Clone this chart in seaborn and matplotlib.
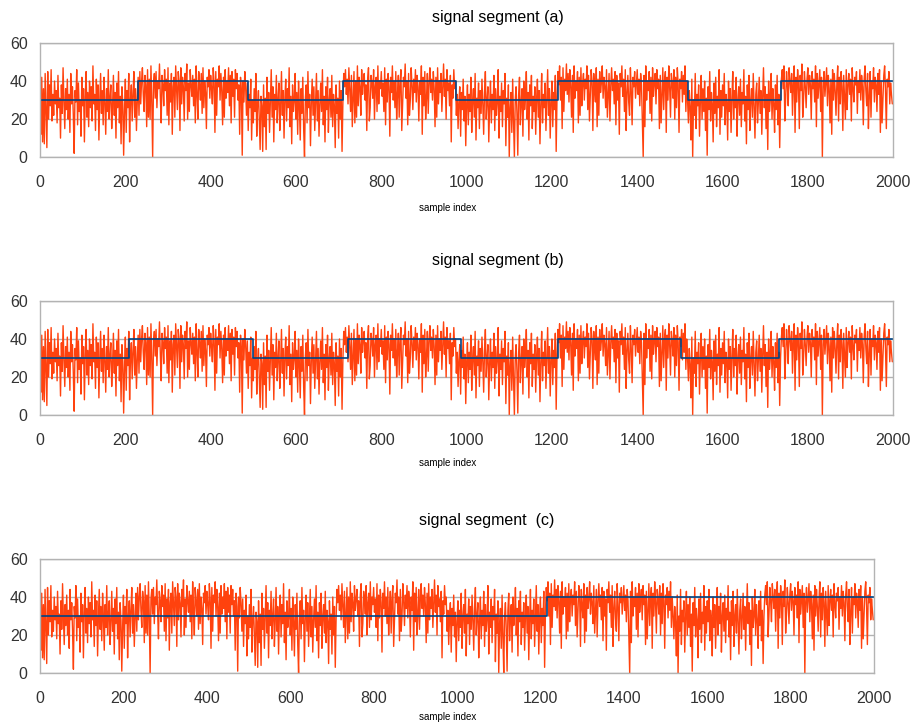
import numpy as np
import seaborn as sns
import matplotlib.pyplot as plt

# signal values, one every 2 samples
signal = [
    30, 12, 42, 8, 36, 7, 44, 24, 5, 45, 20, 38, 27, 46, 19, 33, 22, 40, 28, 35,
    18, 43, 26, 31, 10, 38, 23, 47, 29, 15, 36, 25, 41, 20, 33, 13, 44, 28, 37, 22,
    2, 35, 29, 46, 17, 39, 24, 30, 11, 42, 27, 36, 8, 32, 45, 21, 34, 16, 40, 26,
    37, 19, 48, 28, 33, 14, 41, 25, 38, 9, 30, 44, 23, 35, 17, 42, 29, 12, 36, 24,
    46, 20, 31, 38, 15, 27, 43, 22, 34, 10, 39, 26, 45, 18, 32, 7, 37, 28, 1, 24,
    41, 13, 35, 26, 44, 8, 30, 38, 19, 33, 45, 21, 36, 14, 29, 42, 22, 45, 28, 40,
    47, 33, 24, 43, 38, 16, 46, 21, 41, 20, 48, 29, 0, 39, 44, 31, 45, 26, 40, 36,
    49, 32, 18, 43, 38, 27, 46, 35, 41, 22, 47, 17, 39, 29, 44, 12, 37, 42, 21, 48,
    36, 25, 45, 40, 14, 47, 28, 42, 37, 19, 44, 35, 49, 20, 39, 24, 46, 38, 32, 43,
    27, 41, 18, 48, 33, 20, 45, 38, 30, 44, 23, 47, 26, 40, 34, 15, 42, 37, 46, 31,
    43, 36, 28, 47, 39, 13, 45, 22, 41, 37, 48, 30, 44, 35, 17, 42, 21, 46, 31, 40,
    34, 47, 27, 43, 18, 45, 32, 41, 21, 46, 36, 44, 30, 38, 12, 42, 35, 1, 40, 29,
    45, 37, 22, 39, 14, 33, 26, 41, 9, 30, 18, 36, 24, 44, 11, 28, 35, 20, 4, 32,
    27, 3, 38, 16, 31, 4, 42, 23, 34, 13, 29, 46, 21, 37, 8, 33, 25, 43, 18, 30,
    39, 14, 27, 45, 22, 35, 10, 31, 41, 19, 36, 26, 47, 16, 32, 7, 38, 24, 29, 44,
    20, 34, 12, 40, 27, 9, 36, 23, 42, 15, 0, 31, 38, 18, 45, 26, 33, 6, 29, 41,
    22, 37, 14, 30, 44, 19, 35, 11, 28, 39, 24, 46, 17, 32, 8, 37, 25, 42, 13, 30,
    36, 21, 43, 16, 33, 27, 5, 38, 23, 31, 10, 40, 20, 35, 3, 29, 44, 37, 46, 33,
    41, 28, 47, 36, 24, 43, 16, 31, 45, 18, 40, 21, 48, 27, 42, 37, 22, 46, 33, 39,
    44, 30, 38, 14, 41, 47, 19, 26, 43, 39, 31, 46, 20, 37, 42, 24, 48, 28, 40, 36,
    45, 32, 39, 24, 47, 17, 41, 29, 44, 37, 11, 42, 34, 48, 30, 40, 26, 45, 20, 33,
    43, 21, 39, 46, 14, 28, 42, 37, 49, 31, 40, 17, 44, 22, 30, 47, 38, 25, 41, 34,
    46, 29, 43, 37, 19, 40, 33, 48, 12, 42, 27, 45, 20, 31, 44, 23, 39, 47, 34, 41,
    30, 45, 36, 16, 42, 21, 47, 28, 40, 34, 44, 24, 37, 49, 32, 41, 20, 46, 35, 39,
    27, 43, 8, 38, 31, 46, 36, 40, 22, 33, 15, 29, 37, 11, 34, 25, 41, 19, 32, 6,
    27, 38, 17, 33, 24, 42, 13, 30, 36, 21, 44, 9, 31, 26, 39, 15, 35, 23, 41, 28,
    12, 34, 45, 20, 30, 37, 8, 27, 40, 18, 33, 25, 43, 14, 36, 22, 29, 46, 10, 32,
    24, 39, 16, 35, 28, 44, 6, 31, 21, 38, 0, 26, 34, 13, 41, 19, 0, 30, 37, 23,
    1, 33, 42, 17, 29, 36, 11, 40, 25, 31, 45, 20, 34, 9, 38, 27, 43, 15, 32, 24,
    37, 12, 30, 41, 21, 35, 7, 28, 44, 18, 33, 26, 39, 14, 31, 46, 22, 36, 10, 29,
    40, 16, 34, 25, 43, 3, 32, 45, 38, 48, 30, 42, 15, 47, 24, 41, 35, 49, 33, 44,
    29, 46, 38, 21, 43, 13, 48, 31, 40, 35, 45, 18, 42, 22, 47, 27, 39, 44, 30, 41,
    36, 48, 25, 43, 19, 32, 46, 40, 14, 44, 35, 29, 47, 16, 41, 22, 45, 34, 39, 48,
    31, 42, 37, 26, 46, 21, 33, 44, 19, 38, 47, 35, 41, 28, 45, 17, 43, 30, 39, 12,
    44, 37, 48, 32, 41, 24, 46, 14, 34, 43, 29, 22, 47, 35, 17, 42, 37, 45, 31, 39,
    46, 33, 41, 27, 44, 38, 20, 0, 43, 16, 48, 30, 40, 35, 45, 23, 42, 19, 47, 32,
    39, 44, 28, 46, 36, 41, 15, 43, 18, 33, 47, 25, 40, 45, 13, 42, 30, 48, 37, 21,
    44, 39, 31, 46, 20, 42, 26, 47, 38, 13, 41, 36, 45, 29, 43, 33, 48, 24, 40, 30,
    18, 35, 26, 9, 41, 0, 30, 22, 44, 15, 33, 27, 38, 11, 29, 43, 20, 36, 24, 40,
    14, 31, 1, 37, 25, 45, 19, 34, 28, 8, 39, 23, 42, 16, 32, 26, 46, 12, 35, 21,
    38, 27, 44, 17, 33, 29, 9, 40, 24, 36, 13, 31, 45, 20, 35, 26, 42, 11, 30, 37,
    22, 41, 16, 34, 28, 46, 19, 32, 7, 38, 25, 43, 14, 30, 36, 21, 44, 27, 10, 33,
    39, 18, 29, 42, 23, 35, 12, 31, 47, 26, 37, 15, 33, 4, 40, 24, 30, 44, 20, 36,
    28, 13, 38, 25, 43, 17, 33, 5, 30, 41, 46, 36, 48, 19, 31, 45, 38, 27, 47, 40,
    34, 44, 22, 39, 48, 13, 42, 29, 46, 38, 15, 43, 35, 49, 21, 31, 45, 37, 26, 41,
    47, 33, 43, 38, 20, 45, 36, 41, 29, 48, 16, 44, 31, 39, 46, 24, 42, 0, 37, 45,
    32, 40, 47, 27, 43, 36, 18, 41, 12, 46, 30, 44, 35, 22, 39, 48, 19, 42, 28, 45,
    37, 14, 43, 31, 20, 46, 25, 38, 44, 33, 41, 19, 47, 36, 29, 42, 38, 45, 23, 40,
    34, 46, 30, 43, 37, 17, 41, 48, 35, 27, 44, 15, 32, 45, 21, 40, 36, 47, 29, 42,
    38, 24, 44, 33, 46, 13, 40, 18, 30, 43, 48, 35, 15, 41, 37, 45, 28, 39, 33, 28,
]
sample_index = np.arange(len(signal)) * 2

# segment boundaries and levels for each panel
edges_a = [0, 229, 488, 710, 975, 1214, 1518, 1738, 2000]
levels_a = [30, 40, 30, 40, 30, 40, 30, 40]
edges_b = [0, 209, 500, 722, 986, 1215, 1503, 1733, 2000]
levels_b = [30, 40, 30, 40, 30, 40, 30, 40]
edges_c = [0, 1215, 2000]
levels_c = [30, 40]

titles = ["signal segment (a)", "signal segment (b)", "signal segment  (c)"]

sns.set_style("white")
plt.rcParams["font.family"] = ["Liberation Sans", "DejaVu Sans"]

fig = plt.figure(figsize=(9.1, 7.24), dpi=100)

panels = [
    ([0.044, 0.783, 0.9375, 0.1575], edges_a, levels_a, titles[0], 0.547, 0.986, 0.706),
    ([0.044, 0.4268, 0.9375, 0.1575], edges_b, levels_b, titles[1], 0.547, 0.650, 0.354),
    ([0.044, 0.0704, 0.9165, 0.1575], edges_c, levels_c, titles[2], 0.535, 0.292, 0.003),
]

grey = "#b3b3b3"
for rect, edges, levels, title, tx, ty, ly in panels:
    ax = fig.add_axes(rect)
    sns.lineplot(x=sample_index, y=signal, ax=ax, color="#ff420e",
                 linewidth=1.0, estimator=None, sort=False)
    sns.lineplot(x=edges, y=levels + [levels[-1]], ax=ax, color="#004586",
                 linewidth=1.2, drawstyle="steps-post", estimator=None, sort=False)
    ax.set_xlim(0, 2000)
    ax.set_ylim(0, 60)
    ax.set_xticks(range(0, 2001, 200))
    ax.set_yticks([0, 20, 40, 60])
    ax.yaxis.grid(True, color=grey, linewidth=1)
    ax.set_axisbelow(True)
    for sp in ax.spines.values():
        sp.set_color(grey)
        sp.set_linewidth(1)
    ax.tick_params(axis="both", colors=grey, labelcolor="#333333",
                   labelsize=11.5, length=5, width=1)
    ax.tick_params(axis="x", pad=8)
    ax.tick_params(axis="y", pad=4)
    ax.set_xlabel("")
    ax.set_ylabel("")
    fig.text(tx, ty, title, ha="center", va="top", fontsize=11.5, color="#000000")
    fig.text(0.492, ly, "sample index", ha="center", va="bottom", fontsize=7, color="#000000")

fig.savefig("out.png", dpi=100)
